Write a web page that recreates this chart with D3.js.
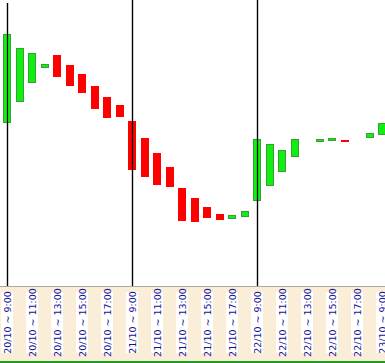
<!DOCTYPE html>
<html>
<head>
<meta charset="utf-8">
<script src="https://cdn.jsdelivr.net/npm/d3@7/dist/d3.min.js"></script>
<style>
  html, body { margin: 0; padding: 0; background: #fff; }
  svg { display: block; }
</style>
</head>
<body>
<svg id="chart" width="385" height="363"></svg>
<script>
// ---- data ----
const days = ["20/10", "21/10", "22/10", "23/10"];
const hours = ["9:00", "10:00", "11:00", "12:00", "13:00", "14:00", "15:00", "16:00", "17:00", "18:00"];
// hourly bars (one per category), open / close values
const opens  = [66.35, 68.37, 70.27, 71.83, 73.10, 72.10, 71.20, 70.00, 68.90, 68.10,
                66.50, 64.80, 63.30, 61.90, 59.80, 58.80, 57.90, 57.20, 56.73, 56.93,
                58.53, 60.03, 61.43, 62.93, 64.45, 64.43, 64.53, 64.60, 64.66, 64.83,
                65.13];
const closes = [75.20, 73.77, 73.30, 72.20, 70.93, 70.03, 69.33, 67.73, 66.83, 66.93,
                61.63, 60.93, 60.13, 59.93, 56.53, 56.43, 56.83, 56.63, 57.10, 57.50,
                64.70, 64.20, 63.60, 64.70, 64.48, 64.70, 64.80, 64.40, 64.68, 65.30,
                66.30];
const tickHours = ["9:00", "11:00", "13:00", "15:00", "17:00"];
const separatorDays = ["20/10", "21/10", "22/10"];

// ---- build categories ----
const cats = [];
days.forEach(d => hours.forEach(h => cats.push(d + " ~ " + h)));
const n = opens.length;
const used = cats.slice(0, n);
const bars = used.map((c, i) => ({ cat: c, open: opens[i], close: closes[i] }));
const ticks = used.filter(c => tickHours.includes(c.split(" ~ ")[1]));

// ---- layout ----
const W = 385, H = 363;
const plotBottom = 286;
const svg = d3.select("#chart");

const x = d3.scalePoint().domain(used).range([7, 7 + 12.5 * (n - 1)]);
const y = d3.scaleLinear().domain([50, 78.6]).range([plotBottom, 0]);

// backgrounds
svg.append("rect").attr("x", 0).attr("y", 0).attr("width", W).attr("height", plotBottom).attr("fill", "#ffffff");
svg.append("rect").attr("x", 0).attr("y", plotBottom).attr("width", W).attr("height", H - plotBottom).attr("fill", "#faeed8");
svg.append("line").attr("x1", 0).attr("x2", W).attr("y1", plotBottom + 0.5).attr("y2", plotBottom + 0.5)
  .attr("stroke", "#a8a8a8").attr("stroke-width", 1);
svg.append("rect").attr("x", 0).attr("y", 361).attr("width", W).attr("height", 2).attr("fill", "#1f9a1f");

// day separators
svg.append("g").selectAll("line")
  .data(separatorDays)
  .join("line")
  .attr("x1", d => Math.round(x(d + " ~ 9:00")) + 0.5)
  .attr("x2", d => Math.round(x(d + " ~ 9:00")) + 0.5)
  .attr("y1", (d, i) => i === 0 ? 3 : 0)
  .attr("y2", plotBottom)
  .attr("stroke", "#000").attr("stroke-width", 1.2);

// bars
const g = svg.append("g");
bars.forEach(b => {
  const cx = x(b.cat);
  const up = b.close >= b.open;
  const top = y(Math.max(b.open, b.close));
  const bot = y(Math.min(b.open, b.close));
  if (up) {
    g.append("rect")
      .attr("x", Math.round(cx - 4) + 0.5)
      .attr("y", Math.round(top) + 0.5)
      .attr("width", 7)
      .attr("height", Math.max(0, Math.round(bot) - Math.round(top) - 1))
      .attr("fill", "#11ee11")
      .attr("stroke", "#36a036")
      .attr("stroke-width", 1);
  } else {
    g.append("rect")
      .attr("x", Math.round(cx - 4))
      .attr("y", Math.round(top))
      .attr("width", 8)
      .attr("height", Math.max(1, Math.round(bot) - Math.round(top)))
      .attr("fill", "#ff0000");
  }
});

// redraw separators on top of bars (lines cross bars in reference)
svg.append("g").selectAll("line")
  .data(separatorDays)
  .join("line")
  .attr("x1", d => Math.round(x(d + " ~ 9:00")) + 0.5)
  .attr("x2", d => Math.round(x(d + " ~ 9:00")) + 0.5)
  .attr("y1", (d, i) => i === 0 ? 3 : 0)
  .attr("y2", plotBottom)
  .attr("stroke", "#000").attr("stroke-width", 1.2);

// x labels
const lab = svg.append("g");
const midY = 322.5;
ticks.forEach(t => {
  const cx = x(t);
  lab.append("rect")
    .attr("x", Math.round(cx) - 6).attr("y", 292)
    .attr("width", 12).attr("height", 61)
    .attr("fill", "#ffffff");
  lab.append("text")
    .attr("transform", `translate(${cx + 3.5},${midY}) rotate(-90)`)
    .attr("text-anchor", "middle")
    .attr("font-family", "DejaVu Sans, Verdana, sans-serif")
    .attr("font-size", 9.5)
    .attr("fill", "#10109a")
    .text(t);
});
</script>
</body>
</html>
